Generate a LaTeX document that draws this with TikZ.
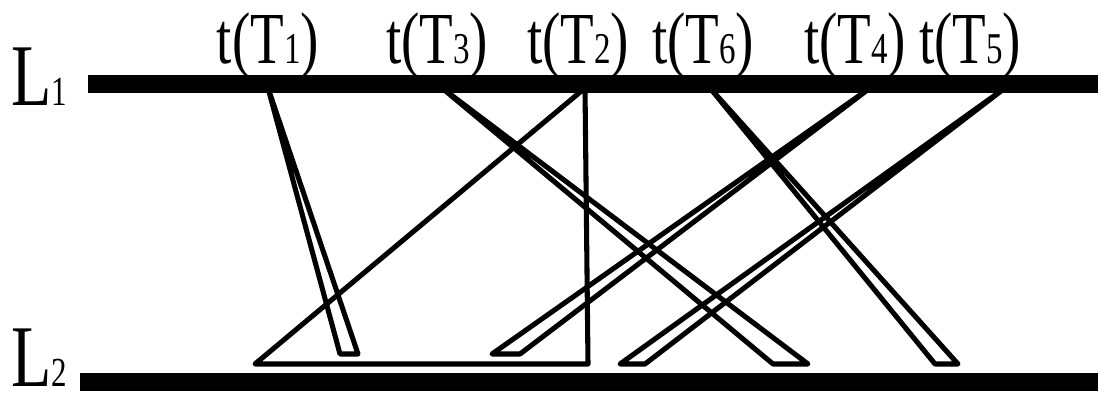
\documentclass[tikz,border=0pt]{standalone}
\usepackage{fontspec}
\setmainfont{Liberation Serif}
\newfontfamily\narrowserif[FakeStretch=0.75]{Liberation Serif}
\usetikzlibrary{positioning}

\newcommand{\tasktime}[1]{t(T{\fontsize{33}{33}\selectfont #1})}
\newcommand{\levelname}[1]{L{\fontsize{31}{31}\selectfont #1}}

\begin{document}
\begin{tikzpicture}[
    x=0.75pt, y=-0.75pt,
    level/.style={line width=13pt},
    task/.style={line width=3.8pt, line join=round},
    timelabel/.style={anchor=base, inner sep=0pt, font=\narrowserif\fontsize{55}{55}\selectfont},
    levellabel/.style={anchor=base west, inner sep=0pt, font=\narrowserif\fontsize{66}{66}\selectfont}
]
    \useasboundingbox (0,0) rectangle (1098,396);

    % apexes on L1, base corners near L2
    \coordinate (a1) at (268,88);  \coordinate (b1l) at (340,354); \coordinate (b1r) at (358,354);
    \coordinate (a3) at (442,88);  \coordinate (b3l) at (773,364); \coordinate (b3r) at (808,364);
    \coordinate (a2) at (585,88);  \coordinate (b2l) at (255,364); \coordinate (b2r) at (588,364);
    \coordinate (a6) at (710,88);  \coordinate (b6l) at (935,364); \coordinate (b6r) at (958,364);
    \coordinate (a4) at (870,88);  \coordinate (b4l) at (492,354); \coordinate (b4r) at (520,354);
    \coordinate (a5) at (1005,88); \coordinate (b5l) at (620,364); \coordinate (b5r) at (645,364);

    \draw[task] (a1) -- (b1l) -- (b1r) -- cycle;
    \draw[task] (a3) -- (b3l) -- (b3r) -- cycle;
    \draw[task] (a2) -- (b2l) -- (b2r) -- cycle;
    \draw[task] (a6) -- (b6l) -- (b6r) -- cycle;
    \draw[task] (a4) -- (b4l) -- (b4r) -- cycle;
    \draw[task] (a5) -- (b5l) -- (b5r) -- cycle;

    % the two levels
    \coordinate (l1s) at (88,84);  \coordinate (l1e) at (1098,84);
    \coordinate (l2s) at (80,382); \coordinate (l2e) at (1098,382);
    \draw[level] (l1s) -- (l1e);
    \draw[level] (l2s) -- (l2e);

    \node[levellabel] (lone) at (11,105) {\levelname{1}};
    \node[levellabel] (ltwo) at (11,386) {\levelname{2}};

    \node[timelabel] (time1) at (268,63) {\tasktime{1}};
    \node[timelabel] (time3) at (437,63) {\tasktime{3}};
    \node[timelabel] (time2) at (578,63) {\tasktime{2}};
    \node[timelabel] (time6) at (703,63) {\tasktime{6}};
    \node[timelabel] (time4) at (855,63) {\tasktime{4}};
    \node[timelabel] (time5) at (970,63) {\tasktime{5}};
\end{tikzpicture}
\end{document}
